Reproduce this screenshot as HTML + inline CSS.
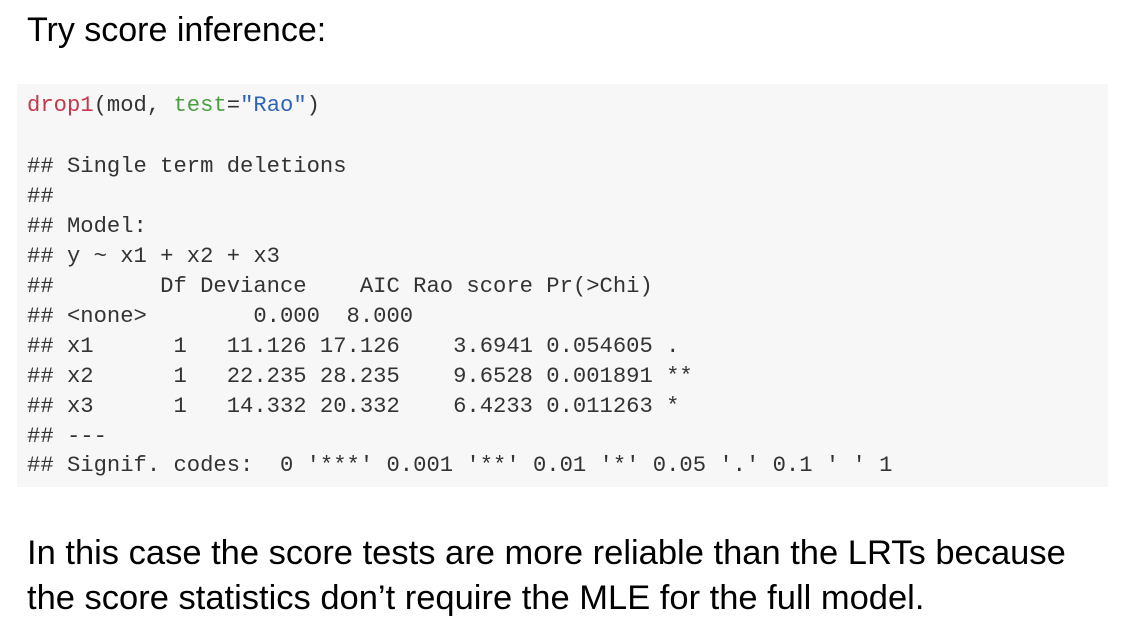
<!DOCTYPE html>
<html><head><meta charset="utf-8"><style>
body{margin:0;width:1123px;height:636px;background:#fff;position:relative;overflow:hidden;font-family:"Liberation Sans",sans-serif;color:#000}
.t{position:absolute;left:27px;font-size:34.5px;white-space:nowrap;margin:0;line-height:40px}
#code{position:absolute;left:17px;top:84px;width:1091px;height:403px;background:#f7f7f7}
.l{position:absolute;left:10px;font-family:"Liberation Mono",monospace;font-size:22.2px;white-space:pre;color:#333;line-height:30px}
.fn{color:#c5374a}.ar{color:#4a9e3f}.st{color:#2f63b4}
</style></head><body>
<div class="t" style="top:10px;font-size:34px">Try score inference:</div>
<div id="code">
<div class="l" style="top:7px"><span class="fn">drop1</span>(mod, <span class="ar">test</span>=<span class="st">"Rao"</span>)</div>
<div class="l" style="top:68px">## Single term deletions</div>
<div class="l" style="top:98px">##</div>
<div class="l" style="top:128px">## Model:</div>
<div class="l" style="top:158px">## y ~ x1 + x2 + x3</div>
<div class="l" style="top:188px">##        Df Deviance    AIC Rao score Pr(&gt;Chi)</div>
<div class="l" style="top:218px">## &lt;none&gt;        0.000  8.000</div>
<div class="l" style="top:248px">## x1      1   11.126 17.126    3.6941 0.054605 .</div>
<div class="l" style="top:278px">## x2      1   22.235 28.235    9.6528 0.001891 **</div>
<div class="l" style="top:308px">## x3      1   14.332 20.332    6.4233 0.011263 *</div>
<div class="l" style="top:338px">## ---</div>
<div class="l" style="top:367px">## Signif. codes:  0 '***' 0.001 '**' 0.01 '*' 0.05 '.' 0.1 ' ' 1</div>
</div>
<div class="t" style="top:533px">In this case the score tests are more reliable than the LRTs because</div>
<div class="t" style="top:578px">the score statistics don’t require the MLE for the full model.</div>
</body></html>
